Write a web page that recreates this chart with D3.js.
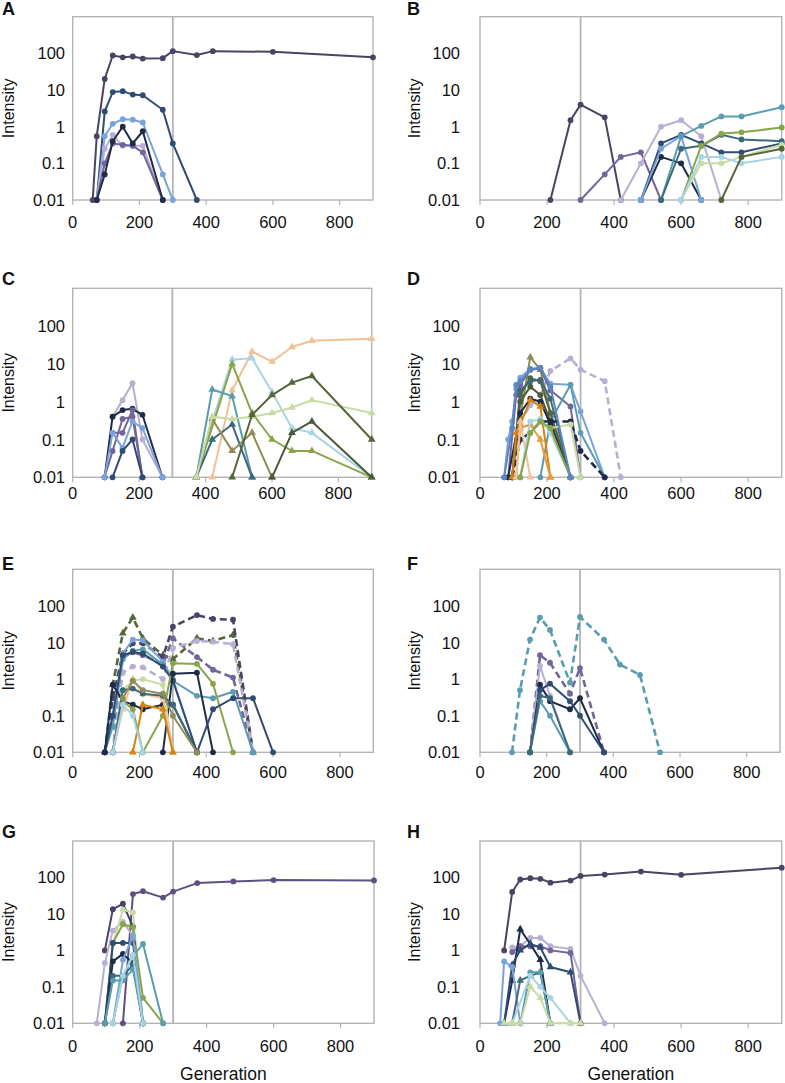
<!DOCTYPE html>
<html><head><meta charset="utf-8">
<script src="https://cdn.jsdelivr.net/npm/d3@7"></script>
<style>
body{margin:0;background:#fff;}
svg text{font-family:"Liberation Sans",Arial,Helvetica,sans-serif;fill:#111;}
</style>
</head><body>
<svg id="chart" width="785" height="1083"></svg>
<script>
// ---------- DATA ----------
const xTicks = [0, 200, 400, 600, 800];
const yTicks = [0.01, 0.1, 1, 10, 100];
const yTickLabels = ["0.01", "0.1", "1", "10", "100"];
const panelLabels = ["A", "B", "C", "D", "E", "F", "G", "H"];
const xTitle = "Generation";
const yTitle = "Intensity";
const markerGeneration = 300;

// each series: [generation, intensity] pairs
const seriesA = [
  [[60,0.01],[72,0.55],[96,20],[120,88],[150,78],[180,82],[210,72],[270,74],[300,115],[372,90],[420,115],[600,110],[900,78]],
  [[72,0.01],[96,2.6],[120,8.8],[150,9.3],[180,7.5],[210,7.2],[270,2.9],[300,0.35],[372,0.01]],
  [[72,0.01],[96,0.55],[120,1.2],[150,1.6],[180,1.55],[210,1.3],[270,0.05],[300,0.01]],
  [[72,0.01],[96,0.25],[120,0.6],[150,0.3],[180,0.3],[210,0.3],[270,0.01]],
  [[72,0.01],[96,0.1],[120,0.35],[150,0.32],[180,0.3],[210,0.2],[270,0.01]],
  [[72,0.01],[96,0.05],[120,0.4],[150,1.0],[180,0.35],[210,0.75],[270,0.01]]
];
const seriesB = [
  [[210,0.01],[270,1.5],[300,4],[372,1.8],[420,0.01]],
  [[300,0.01],[372,0.05],[420,0.15],[480,0.2],[540,0.01]],
  [[420,0.01],[480,0.1],[540,1.0],[600,1.5],[660,0.55],[720,0.01]],
  [[480,0.01],[540,0.15],[600,0.1],[660,0.01]],
  [[480,0.01],[540,0.35],[600,0.6],[660,0.35],[720,0.2],[780,0.2],[900,0.35]],
  [[480,0.01],[540,0.25],[600,0.55],[660,0.01]],
  [[540,0.01],[600,0.55],[660,1.05],[720,1.9],[780,1.9],[900,3.4]],
  [[540,0.01],[600,0.25],[660,0.3],[720,0.6],[780,0.45],[900,0.4]],
  [[600,0.01],[660,0.3],[720,0.65],[780,0.7],[900,0.95]],
  [[600,0.01],[660,0.1],[720,0.1],[780,0.15],[900,0.32]],
  [[600,0.01],[660,0.15],[720,0.15],[780,0.1],[900,0.15]],
  [[720,0.01],[780,0.15],[900,0.25]]
];
const seriesC = [
  [[120,0.4],[150,1.1],[180,3.1],[210,0.1],[270,0.01]],
  [[96,0.01],[120,0.4],[150,0.6],[180,0.65],[210,0.45],[270,0.01]],
  [[96,0.01],[120,0.05],[150,0.35],[180,0.4],[210,0.01]],
  [[120,0.15],[150,0.15],[180,0.6],[210,0.01]],
  [[96,0.01],[120,0.15],[150,0.06],[180,0.3],[210,0.2],[270,0.01]],
  [[120,0.01],[150,0.05],[180,0.1],[210,0.01]],
  [[420,0.01],[480,2],[540,21],[600,11.5],[660,28],[720,41],[900,46]],
  [[372,0.01],[420,0.3],[480,13],[540,14],[600,1.8],[660,0.2],[720,0.15],[900,0.01]],
  [[372,0.01],[480,10],[540,0.5],[600,0.1],[660,0.05],[720,0.05],[900,0.01]],
  [[372,0.01],[420,2.1],[480,1.4],[540,0.01]],
  [[372,0.01],[420,0.1],[480,0.25],[540,0.01]],
  [[372,0.01],[420,0.35],[480,0.05],[540,0.15],[600,0.01]],
  [[372,0.01],[420,0.4],[480,0.35],[540,0.4],[600,0.5],[660,0.7],[720,1.1],[900,0.5]],
  [[480,0.01],[540,0.45],[600,1.5],[660,3.2],[720,4.8],[900,0.1]],
  [[600,0.01],[660,0.15],[720,0.3],[900,0.01]]
];
const seriesD = [
  [[96,0.01],[120,0.3],[150,0.8],[180,1.5],[210,6.5],[270,14],[300,7],[372,3.5],[420,0.01]],
  [[72,0.01],[84,0.1],[96,0.3],[108,2.2],[120,4.3],[150,7.5],[180,7.8],[210,3.0],[270,2.8],[300,0.55],[372,0.01]],
  [[96,0.01],[120,0.4],[150,15],[180,7],[210,0.5],[270,0.01]],
  [[84,0.01],[108,1.5],[120,2.8],[150,7],[180,7.5],[210,2],[270,0.75],[300,0.01]],
  [[180,0.01],[210,0.3],[270,2.8],[300,0.15],[372,0.01]],
  [[96,0.01],[120,1.5],[150,4.2],[180,3.5],[210,0.5],[270,0.01]],
  [[96,0.01],[120,2],[150,3.5],[180,3.8],[210,1.2],[270,0.01]],
  [[96,0.01],[120,1],[150,2.5],[180,1.5],[210,0.3],[270,0.01]],
  [[84,0.01],[120,0.5],[150,1.2],[180,1.0],[210,0.25],[270,0.01]],
  [[96,0.01],[120,0.1],[150,0.15],[180,0.3],[210,0.3],[270,0.3],[300,0.05],[372,0.01]],
  [[96,0.01],[108,0.15],[120,0.25],[150,1.1],[180,0.75],[210,0.01]],
  [[108,0.01],[120,0.2],[150,0.25],[180,0.1],[210,0.01]],
  [[108,0.01],[120,0.3],[150,0.01]],
  [[120,0.01],[150,0.15],[180,0.3],[210,0.2],[270,0.25],[300,0.01]],
  [[120,0.01],[150,0.3],[180,0.35],[210,0.15],[270,0.01]],
  [[120,0.01],[150,0.15],[180,0.3],[210,0.2],[270,0.01]],
  [[72,0.01],[96,0.2],[108,2.8],[120,3.5],[150,7],[180,8],[210,2.5],[270,0.01]]
];
const seriesE = [
  [[96,0.01],[120,0.7],[150,18],[180,48],[210,13],[270,4.5],[300,3.5],[372,13],[420,11],[480,16],[540,0.01]],
  [[96,0.01],[120,0.3],[150,5],[180,9.5],[210,9.5],[270,4],[300,27],[372,56],[420,44],[480,42],[540,0.01]],
  [[120,0.01],[150,4],[180,5.5],[210,4.5],[270,2.5],[300,13],[372,4],[420,1.8],[480,1.1],[540,0.01]],
  [[120,0.01],[150,1.5],[180,2.2],[210,2.1],[270,1.0],[300,7],[372,11],[420,10.5],[480,9],[540,0.01]],
  [[96,0.01],[120,0.1],[150,5],[180,12],[210,11.5],[270,3],[300,1.0],[372,0.01]],
  [[96,0.01],[120,0.05],[150,3.5],[180,6],[210,6.5],[270,2.5],[300,0.9],[372,0.35],[420,0.3],[480,0.45],[540,0.01]],
  [[96,0.01],[120,0.1],[150,4.5],[180,5.5],[210,5],[270,2.2],[300,0.9],[372,0.01]],
  [[210,0.01],[270,0.1],[300,2.7],[372,2.6],[420,0.75],[480,0.01]],
  [[96,0.01],[120,0.7],[150,0.25],[180,0.2],[210,0.15],[270,0.2],[300,0.2],[372,0.01]],
  [[270,0.01],[300,1.4],[372,1.5],[420,0.01]],
  [[372,0.01],[420,0.15],[480,0.3],[540,0.3],[600,0.01]],
  [[120,0.01],[150,0.5],[180,0.9],[210,1.0],[270,0.7],[300,0.01]],
  [[120,0.01],[150,0.15],[180,1.0],[210,0.4],[270,0.3],[300,0.01]],
  [[180,0.01],[210,0.2],[270,0.15],[300,0.01]],
  [[120,0.01],[150,0.25],[180,0.15],[210,0.01]],
  [[120,0.01],[150,0.5],[180,0.55],[210,0.4],[270,0.35],[300,0.2],[372,0.01]],
  [[150,0.3],[180,0.9],[210,0.5],[270,0.4],[300,0.1],[372,0.01]],
  [[120,0.01],[150,0.2],[180,0.1],[210,0.01]]
];
const seriesF = [
  [[96,0.01],[120,0.5],[150,12],[180,48],[210,22],[270,0.8],[300,50],[372,12],[420,2.5],[480,1.3],[540,0.01]],
  [[150,0.01],[180,4.5],[210,2.8],[270,0.4],[300,2.0],[372,0.01]],
  [[150,0.01],[180,2.3],[210,0.35],[270,0.01]],
  [[150,0.01],[180,0.7],[210,0.25],[270,0.15],[300,0.3],[372,0.01]],
  [[150,0.01],[180,0.5],[210,0.75],[270,0.25],[300,0.1],[372,0.01]],
  [[150,0.01],[180,0.25],[210,0.1],[270,0.01]],
  [[150,0.01],[180,0.35],[210,0.3],[270,0.01]]
];
const seriesG = [
  [[150,0.01],[180,35],[210,42],[270,28],[300,41],[372,70],[480,78],[600,85],[900,83]],
  [[96,1.0],[120,13.5],[150,19],[180,4.5],[210,0.01]],
  [[72,0.01],[96,0.45],[120,3.5],[150,6],[180,2.5],[210,0.01]],
  [[96,0.01],[120,1.5],[150,13],[180,11],[210,0.01]],
  [[96,0.01],[120,1.6],[150,5.2],[180,4.3],[210,0.05],[270,0.01]],
  [[96,0.01],[120,1.6],[150,1.6],[180,1.6],[210,0.01]],
  [[96,0.01],[120,0.5],[150,0.8],[180,0.45],[210,0.01]],
  [[120,0.01],[150,0.55],[180,2.5],[210,0.01]],
  [[120,0.01],[150,0.2],[180,0.7],[210,1.5],[270,0.01]],
  [[96,0.01],[120,0.2],[150,0.2],[180,0.4],[210,0.01]],
  [[96,0.01],[120,0.15],[150,0.15],[180,0.3],[210,0.01]],
  [[120,0.01],[150,0.2],[180,0.75],[210,0.01]]
];
const seriesH = [
  [[72,1.0],[96,40],[120,88],[150,95],[180,92],[210,72],[270,82],[300,110],[372,120],[480,145],[600,118],[900,185]],
  [[96,1.2],[120,1.3],[150,2.2],[180,2.2],[210,1.3],[270,1.1],[300,0.2],[372,0.01]],
  [[96,0.9],[120,1.3],[150,1.3],[180,1.3],[210,1.0],[270,0.85],[300,0.01]],
  [[72,0.01],[96,0.15],[120,3.8],[150,1.5],[180,0.55],[210,0.01]],
  [[72,0.01],[96,0.4],[120,1.0],[150,1.5],[180,1.2],[210,0.35],[270,0.25],[300,0.01]],
  [[60,0.01],[72,0.5],[96,0.35],[120,0.01]],
  [[96,0.01],[120,0.15],[150,0.2],[180,0.25],[210,0.01]],
  [[120,0.01],[150,0.25],[180,0.25],[210,0.01]],
  [[96,0.01],[150,0.2],[180,0.1],[210,0.05],[270,0.01]],
  [[72,0.01],[96,0.01],[120,0.01],[150,0.1],[180,0.05],[210,0.01],[270,0.01],[300,0.01]]
];

// ---------- STYLES (colour key, marker c/t, optional d = dashed) ----------
const palette = {
  dp:"#4a4363", dp2:"#5e5083", p:"#72659a", lp:"#b9afd2", nv:"#1f2c47", db:"#2f4c72",
  lb:"#7aa3dc", mb:"#5b86c2", tl:"#5a9db0", dt:"#3d6a7a", pb:"#a8d4e3", ol:"#89a54b",
  do:"#56663b", dg:"#4a5a3b", lg:"#c9dba4", kh:"#8f8c57", or:"#d8820f", o2:"#e49c3e", pc:"#f2c196"
};
const styleA = ["dp c","db c","lb c","lp c","p c","nv c"];
const styleB = ["dp c","p c","lp c","nv c","db c","lb c","tl c","dt c","ol c","lg c","pb c","do c"];
const styleC = ["lp c","nv c","p c","p c","lb c","db c","pc t","pb t","ol t","tl t","dt t","kh t","lg t","do t","dg t"];
const styleD = ["lp c d","lb c","kh t","p c","tl c","do c","dt c","dg c","nv c","nv c d","or t","o2 t","pc t","lg c","pb c","ol c","mb c"];
const styleE = ["do t d","dp c d","p c d","lp c d","lb c","tl c","db c","ol c","nv c","nv c","db c","lg c","pc t","or t","ol c","dt c","kh c","pb c"];
const styleF = ["tl c d","p c d","lp c","nv c","db c","tl c","dt c"];
const styleG = ["dp2 c","dp c","lp c","lg c","ol c","db c","nv c","lb c","tl c","dt c","tl c","pb c"];
const styleH = ["dp c","lp c","p c","nv t","db t","lb c","dt t","tl c","pb c","lg t"];

// ---------- LAYOUT ----------
const panels = [
  {s:seriesA, st:styleA, x0:72.7, x1:373,   y0:16.7,  y1:200,    lx:2,   ly:15,  tickX:65,  titleX:14,  xl:228},
  {s:seriesB, st:styleB, x0:480,  x1:781.7, y0:16.7,  y1:200,    lx:407, ly:15,  tickX:460, titleX:420, xl:228},
  {s:seriesC, st:styleC, x0:72.7, x1:371.7, y0:288.3, y1:477.3,  lx:2,   ly:285, tickX:65,  titleX:14,  xl:499},
  {s:seriesD, st:styleD, x0:480,  x1:781.7, y0:288.3, y1:477.3,  lx:407, ly:285, tickX:460, titleX:420, xl:499},
  {s:seriesE, st:styleE, x0:72.7, x1:373.3, y0:569.3, y1:752.3,  lx:2,   ly:570, tickX:65,  titleX:14,  xl:778},
  {s:seriesF, st:styleF, x0:480,  x1:780,   y0:569.3, y1:752.3,  lx:407, ly:570, tickX:460, titleX:420, xl:778},
  {s:seriesG, st:styleG, x0:72.7, x1:374,   y0:841,   y1:1023.3, lx:2,   ly:838, tickX:65,  titleX:14,  xl:1052, gx:true},
  {s:seriesH, st:styleH, x0:480,  x1:781.7, y0:841,   y1:1023.3, lx:407, ly:838, tickX:460, titleX:420, xl:1052, gx:true}
];

const svg = d3.select("#chart");
const frameColor = "#b4b4b4";

panels.forEach((P, i) => {
  const x = d3.scaleLinear().domain([0, 900]).range([P.x0, P.x1]);
  const y = d3.scaleLog().domain([0.01, 1000]).range([P.y1, P.y0]);
  const g = svg.append("g");

  g.append("rect").attr("x", P.x0).attr("y", P.y0)
    .attr("width", P.x1 - P.x0).attr("height", P.y1 - P.y0)
    .attr("fill", "none").attr("stroke", frameColor).attr("stroke-width", 1.4);

  g.selectAll(".xt").data(xTicks).enter().append("line")
    .attr("x1", d => x(d)).attr("x2", d => x(d))
    .attr("y1", P.y1).attr("y2", P.y1 + 5)
    .attr("stroke", frameColor).attr("stroke-width", 1.2);

  g.append("line").attr("x1", x(markerGeneration)).attr("x2", x(markerGeneration))
    .attr("y1", P.y0).attr("y2", P.y1)
    .attr("stroke", frameColor).attr("stroke-width", 1.8);

  g.selectAll(".yl").data(yTicks).enter().append("text")
    .attr("x", P.tickX).attr("y", d => y(d) + 6)
    .attr("text-anchor", "end").style("font-size", "16.5px")
    .text((d, k) => yTickLabels[k]);
  g.selectAll(".xl").data(xTicks).enter().append("text")
    .attr("x", d => x(d)).attr("y", P.xl)
    .attr("text-anchor", "middle").style("font-size", "16.5px")
    .text(d => d);

  g.append("text")
    .attr("transform", `translate(${P.titleX},${(P.y0 + P.y1) / 2}) rotate(-90)`)
    .attr("text-anchor", "middle").style("font-size", "16px").text(yTitle);
  if (P.gx) {
    g.append("text").attr("x", (P.x0 + P.x1) / 2).attr("y", 1080)
      .attr("text-anchor", "middle").style("font-size", "17.5px").text(xTitle);
  }

  g.append("text").attr("x", P.lx).attr("y", P.ly)
    .style("font-size", "18px").style("font-weight", "bold").text(panelLabels[i]);

  const line = d3.line().x(d => x(d[0])).y(d => y(d[1]));
  P.s.forEach((pts, k) => {
    const parts = P.st[k].split(" ");
    const col = palette[parts[0]];
    const mk = parts[1];
    const dashed = parts[2] === "d";
    const sg = g.append("g");
    sg.append("path").datum(pts).attr("d", line)
      .attr("fill", "none").attr("stroke", col)
      .attr("stroke-width", dashed ? 2.6 : 2)
      .attr("stroke-linejoin", "round")
      .attr("stroke-dasharray", dashed ? "7,4" : null);
    if (mk === "c") {
      sg.selectAll("circle").data(pts).enter().append("circle")
        .attr("cx", d => x(d[0])).attr("cy", d => y(d[1])).attr("r", 2.9)
        .attr("fill", col);
    } else {
      const sym = d3.symbol().type(d3.symbolTriangle).size(26);
      sg.selectAll("path.m").data(pts).enter().append("path").attr("class", "m")
        .attr("d", sym)
        .attr("transform", d => `translate(${x(d[0])},${y(d[1])})`)
        .attr("fill", col);
    }
  });
});
</script>
</body></html>
